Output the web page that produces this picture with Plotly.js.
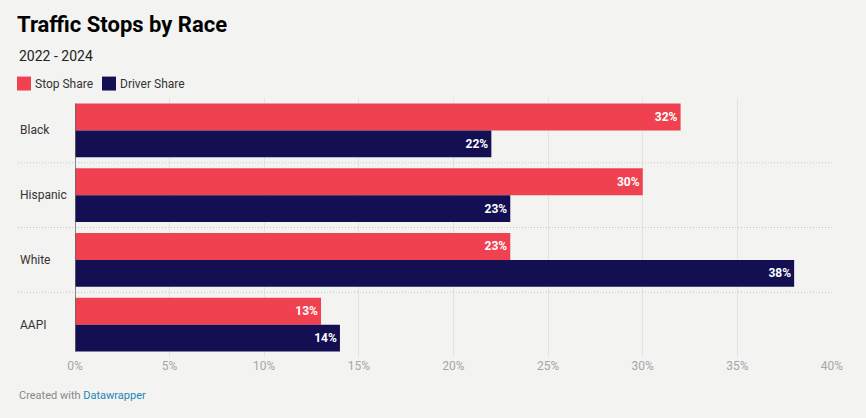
<!DOCTYPE html>
<html><head><meta charset="utf-8">
<script src="https://cdn.plot.ly/plotly-3.0.1.min.js"></script>
<style>html,body{margin:0;padding:0;background:#f3f3f1;}#chart{width:866px;height:418px;}</style>
</head><body><div id="chart"></div>
<script>
const categories = ["Black", "Hispanic", "White", "AAPI"];
const stopShare = [32, 30, 23, 13];
const driverShare = [22, 23, 38, 14];
const seriesNames = ["Stop Share", "Driver Share"];
const xTicks = [0, 5, 10, 15, 20, 25, 30, 35, 40];
const xTickLabels = ["0%", "5%", "10%", "15%", "20%", "25%", "30%", "35%", "40%"];

const RED = "#f04150", NAVY = "#130f52";
const FONT = "Roboto, 'Noto Sans', sans-serif";

function barTrace(name, vals, color) {
  return {
    type: "bar", orientation: "h", name: name,
    y: categories, x: vals,
    marker: {color: color, line: {width: 0}},
    text: vals.map(v => v + "%"),
    textposition: "inside", insidetextanchor: "end",
    insidetextfont: {color: "#ffffff", size: 12, family: FONT, weight: 700},
    cliponaxis: false, hoverinfo: "skip"
  };
}

const traces = [barTrace(seriesNames[0], stopShare, RED), barTrace(seriesNames[1], driverShare, NAVY)];

const L = 75, R = 34, T = 97.5, B = 60.5, W = 866, H = 418;
const pw = W - L - R;
function px2paperX(px) { return (px - L) / pw; }

const shapes = [];
// dotted separators between categories
for (let i = 0; i < categories.length - 1; i++) {
  shapes.push({type: "line", xref: "paper", yref: "y", x0: px2paperX(18), x1: 1, y0: i + 0.5, y1: i + 0.5,
    line: {color: "#c4c4c4", width: 1, dash: "1px,2px"}, layer: "above"});
}
// zero line
shapes.push({type: "line", xref: "x", yref: "y", x0: 0, x1: 0, y0: -0.5 + 0.085, y1: categories.length - 0.5 - 0.085,
  line: {color: "#666666", width: 1.5}, layer: "above"});
// legend swatches
const legY = 1 + (T - 76) / (H - T - B);
const legY2 = 1 + (T - 90) / (H - T - B);
shapes.push({type: "rect", xref: "paper", yref: "paper", x0: px2paperX(17), x1: px2paperX(31), y0: legY2, y1: legY, fillcolor: RED, line: {width: 0}});
shapes.push({type: "rect", xref: "paper", yref: "paper", x0: px2paperX(102), x1: px2paperX(116), y0: legY2, y1: legY, fillcolor: NAVY, line: {width: 0}});

const annotations = categories.map(c => ({
  xref: "paper", yref: "y", x: px2paperX(18), y: c, text: c, showarrow: false,
  xanchor: "left", yanchor: "middle", font: {family: FONT, size: 12, color: "#333333"}
}));
const legMid = (legY + legY2) / 2;
annotations.push({xref: "paper", yref: "paper", x: px2paperX(33), y: legMid, text: seriesNames[0], showarrow: false,
  xanchor: "left", yanchor: "middle", font: {family: FONT, size: 12, color: "#333333"}});
annotations.push({xref: "paper", yref: "paper", x: px2paperX(118), y: legMid, text: seriesNames[1], showarrow: false,
  xanchor: "left", yanchor: "middle", font: {family: FONT, size: 12, color: "#333333"}});
annotations.push({xref: "paper", yref: "paper", x: px2paperX(17), y: 1 + (T - 55) / (H - T - B), text: "2022 - 2024", showarrow: false,
  xanchor: "left", yanchor: "middle", font: {family: FONT, size: 14, color: "#222222"}});
annotations.push({xref: "paper", yref: "paper", x: px2paperX(17), y: -(396 - (H - B)) / (H - T - B), showarrow: false,
  text: "Created with <span style='color:#1d86b8'>Datawrapper</span>",
  xanchor: "left", yanchor: "middle", font: {family: FONT, size: 11, color: "#888888"}});

const layout = {
  width: W, height: H,
  paper_bgcolor: "#f3f3f1", plot_bgcolor: "#f3f3f1",
  margin: {l: L, r: R, t: T, b: B, pad: 0},
  title: {text: "Traffic Stops by Race", x: 17 / W, xanchor: "left", y: 1 - 24 / H, yanchor: "middle",
    font: {family: FONT, size: 22, color: "#000000", weight: 700}},
  showlegend: false,
  barmode: "group", bargap: 0.17, bargroupgap: 0,
  xaxis: {range: [0, 40], tickvals: xTicks, ticktext: xTickLabels, showgrid: true, gridcolor: "#e3e3e1", gridwidth: 1,
    zeroline: false, showline: false, ticks: "", ticklabelstandoff: 0,
    tickfont: {family: FONT, size: 12, color: "#a6a6a6"}, fixedrange: true},
  yaxis: {type: "category", autorange: "reversed", showticklabels: false, showgrid: false, zeroline: false, showline: false, ticks: "", fixedrange: true},
  shapes: shapes, annotations: annotations,
  font: {family: FONT}
};
Plotly.newPlot("chart", traces, layout, {displayModeBar: false, staticPlot: true});
</script></body></html>
